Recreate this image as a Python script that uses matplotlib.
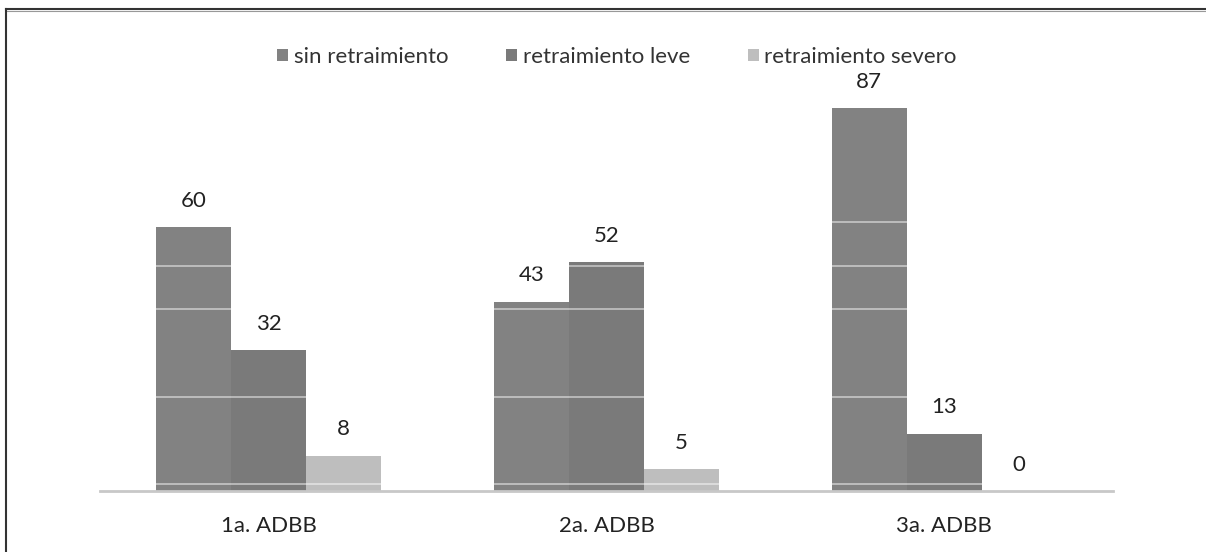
import matplotlib.pyplot as plt
from matplotlib.lines import Line2D
import numpy as np

plt.rcParams['font.family'] = ['Lato', 'DejaVu Sans']

# Porcentajes por evaluación ADBB
grupos = ['1a. ADBB', '2a. ADBB', '3a. ADBB']
series = ['sin retraimiento', 'retraimiento leve', 'retraimiento severo']
sin_retraimiento = [60, 43, 87]
retraimiento_leve = [32, 52, 13]
retraimiento_severo = [8, 5, 0]
colores = ['#828282', '#7a7a7a', '#bebebe']

# líneas claras que cruzan las barras
niveles_lineas = [1.6, 21.4, 41.4, 51.1, 61.1]

W, H = 1206, 552
fig = plt.figure(figsize=(W / 100, H / 100), dpi=100)
ax = fig.add_axes([100 / W, 61 / H, 1013 / W, 440 / H])

x = np.arange(len(grupos))
ancho = 0.222
valores = [sin_retraimiento, retraimiento_leve, retraimiento_severo]
for i, (nombre, vals, col) in enumerate(zip(series, valores, colores)):
    pos = x + (i - 1) * ancho
    bars = ax.bar(pos, vals, ancho, color=col, label=nombre, zorder=2)
    for b, v in zip(bars, vals):
        ax.annotate(str(v), (b.get_x() + b.get_width() / 2, v),
                    xytext=(0, 19), textcoords='offset points',
                    ha='center', va='center', fontsize=16, color='#222222')

for nivel in niveles_lineas:
    ax.axhline(nivel, color='white', alpha=0.55, lw=1.2, zorder=3)

ax.set_xlim(-0.5, 2.5)
ax.set_ylim(0, 100)
for s in ['top', 'right', 'left']:
    ax.spines[s].set_visible(False)
ax.spines['bottom'].set_color('#c8c8c8')
ax.spines['bottom'].set_linewidth(2)
ax.spines['bottom'].set_zorder(4)
ax.set_yticks([])
ax.set_xticks(x)
ax.set_xticklabels(grupos, fontsize=16, color='#222222')
ax.tick_params(axis='x', length=0, pad=18)

leg = fig.legend(loc='center', bbox_to_anchor=(617 / W, 1 - 57 / H),
                 ncol=3, frameon=False, fontsize=16, handlelength=0.5,
                 handleheight=0.5, handletextpad=0.25, columnspacing=2.6)
for t in leg.get_texts():
    t.set_color('#333333')

# marco exterior
fig.add_artist(Line2D([6 / W, 1], [1 - 9 / H, 1 - 9 / H], color='#333333', lw=1.5,
                      transform=fig.transFigure))
fig.add_artist(Line2D([6 / W, 1], [1 - 10.5 / H, 1 - 10.5 / H], color='#999999', lw=0.8,
                      transform=fig.transFigure))
fig.add_artist(Line2D([6 / W, 6 / W], [0, 1 - 9 / H], color='#333333', lw=1.5,
                      transform=fig.transFigure))

fig.savefig('out.png', dpi=100)
